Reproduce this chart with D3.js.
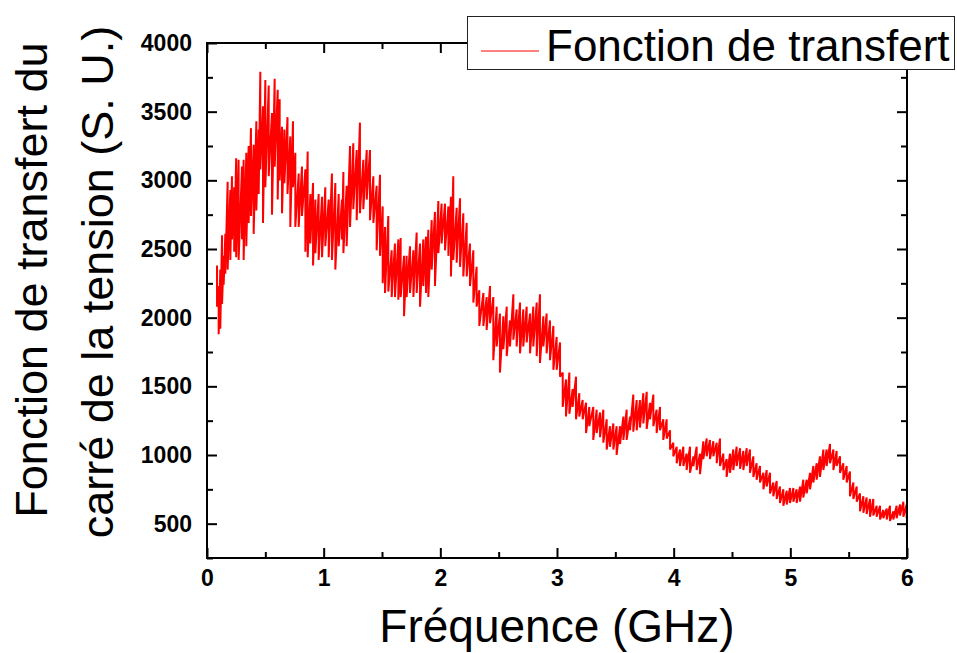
<!DOCTYPE html>
<html><head><meta charset="utf-8">
<script src="https://cdn.jsdelivr.net/npm/d3@7"></script>
<style>body{margin:0;background:#fff}svg{display:block}</style>
</head><body>
<svg id="c" width="957" height="653"></svg>
<script>
// Frequency samples (GHz) with the upper / lower extent of the noisy trace read at each
const freq = [0.086,0.100,0.114,0.129,0.143,0.157,0.177,0.200,0.214,0.233,0.250,0.271,0.300,0.314,0.337,0.357,0.377,0.400,0.423,0.443,0.457,0.480,0.500,0.529,0.557,0.580,0.606,0.623,0.643,0.663,0.690,0.714,0.737,0.757,0.786,0.814,0.843,0.863,0.886,0.909,0.929,0.957,0.986,1.014,1.043,1.071,1.100,1.129,1.157,
1.169,1.197,1.226,1.254,1.283,1.311,1.340,1.369,1.397,1.426,1.454,1.483,1.506,1.526,1.554,1.583,1.611,1.640,1.660,1.689,1.711,1.740,1.769,1.797,1.826,1.854,1.877,1.897,1.926,1.954,1.983,2.011,2.040,2.069,2.091,2.111,2.140,2.169,2.197,2.226,2.254,2.283,2.311,2.334,
2.369,2.397,2.426,2.454,2.483,2.511,2.540,2.569,2.597,2.626,2.654,2.683,2.711,2.740,2.769,2.797,2.826,2.854,2.883,2.911,2.940,2.969,2.997,3.026,3.049,3.077,3.106,3.134,3.163,3.191,3.220,3.249,3.277,3.311,3.340,3.369,3.397,3.426,3.454,3.483,3.511,
3.540,3.569,3.597,3.626,3.654,3.683,3.711,3.740,3.769,3.797,3.826,3.854,3.883,3.911,3.940,3.969,3.997,4.026,4.054,4.083,4.111,4.140,4.169,4.197,4.226,4.254,4.283,4.311,4.340,4.369,4.397,4.426,4.454,4.483,4.511,4.540,4.569,4.597,4.626,4.654,4.683,4.711,4.740,4.769,4.797,
4.826,4.854,4.883,4.911,4.940,4.969,4.997,5.026,5.054,5.083,5.111,5.140,5.169,5.197,5.226,5.254,5.283,5.311,5.340,5.369,5.397,5.426,5.454,5.483,5.511,5.540,5.569,5.597,5.626,5.654,5.683,5.711,5.740,5.769,5.797,5.826,5.854,5.883,5.911,5.940,5.969,5.997];

const upper = [2380,2230,2350,2600,2450,2610,2990,2930,3030,2950,3160,3150,3100,3150,3200,3250,3380,3260,3430,3370,3790,3540,3730,3690,3490,3740,3660,3590,3390,3370,3460,3320,3430,3200,3050,3100,3080,3210,2900,2980,2860,2900,2880,2950,2860,3050,2980,2900,2860,
3060,2960,3250,3270,3220,3420,3150,3220,3220,3030,2960,3040,2810,2660,2740,2490,2540,2570,2580,2450,2450,2520,2490,2620,2540,2570,2590,2640,2710,2770,2850,2830,2830,2810,2880,3030,2800,2870,2760,2690,2540,2490,2370,2200,
2180,2150,2230,2150,2080,2030,2010,2080,1980,2170,2060,2110,2060,2080,2030,2080,2110,2170,2010,2030,1980,1940,1860,1820,1600,1550,1600,1480,1570,1450,1400,1380,1350,1350,1330,1310,1330,1260,1210,1230,1210,
1210,1280,1330,1280,1440,1400,1400,1450,1460,1380,1440,1330,1350,1260,1260,1180,1090,1060,1040,1060,1010,1060,990,1060,1010,1100,1120,1110,1100,1090,1120,1010,970,1010,1040,1060,1050,1030,1050,1040,990,940,920,870,890,
870,800,810,770,750,740,760,760,750,770,820,820,870,920,940,990,1040,1040,1080,1040,1030,990,940,920,880,800,770,720,700,690,680,680,630,630,600,610,630,590,630,640,660,640];

const lower = [2080,1880,1920,2100,2240,2320,2350,2420,2570,2480,2440,2420,2570,2420,2520,2690,2740,2610,2780,2900,3080,2690,2950,3030,2750,3100,2860,3000,2760,2980,2900,2660,2950,2660,2660,2740,2480,2440,2540,2380,2470,2420,2440,2520,2440,2420,2350,2520,2570,
2470,2520,2660,2790,2710,2760,2790,2860,2710,2690,2490,2450,2250,2180,2190,2150,2150,2130,2150,2010,2150,2180,2150,2180,2080,2230,2180,2150,2350,2230,2470,2540,2490,2450,2300,2420,2400,2370,2300,2300,2230,2110,2080,1940,
1940,1910,1960,1690,1790,1600,1770,1720,1790,1840,1790,1740,1790,1820,1740,1790,1720,1670,1790,1740,1690,1620,1620,1570,1350,1280,1300,1350,1260,1280,1260,1160,1210,1110,1160,1130,1090,1040,1060,1040,1000,
1080,1110,1110,1180,1170,1180,1200,1230,1190,1260,1210,1160,1180,1110,1120,1040,990,940,920,920,890,870,920,890,860,970,990,970,990,940,920,890,840,870,890,920,900,890,920,870,840,820,800,750,770,
720,700,680,650,630,640,650,660,650,660,690,720,750,800,820,840,890,920,940,890,920,870,820,800,700,680,660,590,580,570,550,560,550,530,540,530,520,530,540,560,550,540];

const yTicks = [500,1000,1500,2000,2500,3000,3500,4000];
const yMinor = [250,750,1250,1750,2250,2750,3250,3750];
const xTicks = [0,1,2,3,4,5,6];
const xMinor = [0.5,1.5,2.5,3.5,4.5,5.5];
const xTitle = "Fréquence (GHz)";
const yTitle1 = "Fonction de transfert du";
const yTitle2 = "carré de la tension (S. U.)";
const legendLabel = "Fonction de transfert";

const L = 207, R = 907, T = 43, B = 558;
const svg = d3.select("#c");
const x = d3.scaleLinear().domain([0, 6]).range([L, R]);
const y = d3.scaleLinear().domain([250, 4000]).range([B, T]);

// data line
const pts = [];
freq.forEach((f, i) => { pts.push([f, upper[i]]); pts.push([f, lower[i]]); });
svg.append("path")
  .attr("d", d3.line().x(d => x(d[0])).y(d => y(d[1]))(pts))
  .attr("fill", "none").attr("stroke", "#ff0000").attr("stroke-width", 2)
  .attr("stroke-linejoin", "miter").attr("stroke-miterlimit", 3);

const font = "'Liberation Sans', Arial, sans-serif";
function styleAxis(g, labels) {
  g.select(".domain").remove();
  g.selectAll(".tick line").attr("stroke", "#000").attr("stroke-width", 2);
  g.selectAll(".tick text").attr("font-family", font).attr("font-weight", "bold")
    .attr("font-size", 23).attr("fill", "#000");
  if (!labels) g.selectAll(".tick text").remove();
}
// bottom
svg.append("g").attr("transform", `translate(0,${B})`)
  .call(d3.axisBottom(x).tickValues(xTicks).tickSize(-10).tickPadding(12).tickFormat(d3.format("d")))
  .call(g => styleAxis(g, true));
svg.append("g").attr("transform", `translate(0,${B})`)
  .call(d3.axisBottom(x).tickValues(xMinor).tickSize(-6).tickFormat(""))
  .call(g => styleAxis(g, false));
// top
svg.append("g").attr("transform", `translate(0,${T})`)
  .call(d3.axisTop(x).tickValues(xTicks).tickSize(-10).tickFormat(""))
  .call(g => styleAxis(g, false));
svg.append("g").attr("transform", `translate(0,${T})`)
  .call(d3.axisTop(x).tickValues(xMinor).tickSize(-6).tickFormat(""))
  .call(g => styleAxis(g, false));
// left
svg.append("g").attr("transform", `translate(${L},0)`)
  .call(d3.axisLeft(y).tickValues(yTicks).tickSize(-10).tickPadding(15).tickFormat(d3.format("d")))
  .call(g => styleAxis(g, true));
svg.append("g").attr("transform", `translate(${L},0)`)
  .call(d3.axisLeft(y).tickValues(yMinor).tickSize(-6).tickFormat(""))
  .call(g => styleAxis(g, false));
// right
svg.append("g").attr("transform", `translate(${R},0)`)
  .call(d3.axisRight(y).tickValues(yTicks).tickSize(-10).tickFormat(""))
  .call(g => styleAxis(g, false));
svg.append("g").attr("transform", `translate(${R},0)`)
  .call(d3.axisRight(y).tickValues(yMinor).tickSize(-6).tickFormat(""))
  .call(g => styleAxis(g, false));

// frame
svg.append("rect").attr("x", L).attr("y", T).attr("width", R - L).attr("height", B - T)
  .attr("fill", "none").attr("stroke", "#000").attr("stroke-width", 2);

// titles
svg.append("text").attr("x", 557).attr("y", 642).attr("text-anchor", "middle")
  .attr("font-family", font).attr("font-size", 46).attr("fill", "#000").text(xTitle);
svg.append("text").attr("transform", "translate(47,280) rotate(-90)").attr("text-anchor", "middle")
  .attr("font-family", font).attr("font-size", 45).attr("fill", "#000").text(yTitle1);
svg.append("text").attr("transform", "translate(113,282) rotate(-90)").attr("text-anchor", "middle")
  .attr("font-family", font).attr("font-size", 45).attr("fill", "#000").text(yTitle2);

// legend
const lg = svg.append("g");
lg.append("rect").attr("x", 467.5).attr("y", 16.5).attr("width", 487).attr("height", 53)
  .attr("fill", "#fff").attr("stroke", "#222").attr("stroke-width", 1);
lg.append("line").attr("x1", 481).attr("x2", 539).attr("y1", 51).attr("y2", 51)
  .attr("stroke", "#ff0000").attr("stroke-width", 1);
lg.append("text").attr("x", 546).attr("y", 61).attr("font-family", font).attr("font-size", 44)
  .attr("fill", "#000").text(legendLabel);
</script>
</body></html>
